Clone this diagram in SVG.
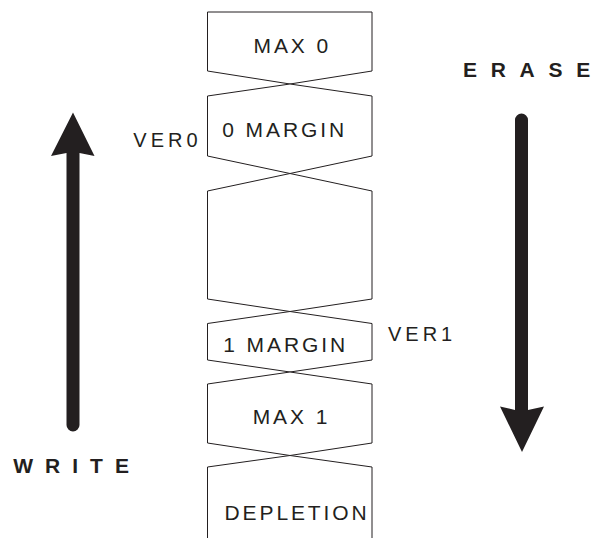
<svg xmlns="http://www.w3.org/2000/svg" width="592" height="538" viewBox="0 0 592 538">
<style>
.cell{fill:#fff;stroke:#231f20;stroke-width:1}
.t{font-family:"Liberation Sans",Arial,sans-serif;font-size:21px;fill:#231f20;letter-spacing:2.9px}
.side{font-family:"Liberation Sans",Arial,sans-serif;font-size:20px;fill:#231f20;letter-spacing:4px}
.dir{font-family:"Liberation Sans",Arial,sans-serif;font-size:21px;font-weight:bold;fill:#231f20}
.arrow{fill:#231f20}
</style>
<rect width="592" height="538" fill="#fff"/>
<g id="max0">
<polygon class="cell" points="207.5,12 372,12 372,71 290,84 207.5,71"/>
<text class="t" x="253.5" y="52.5">MAX 0</text>
</g>
<g id="margin0">
<polygon class="cell" points="207.5,96 290,84 372,96 372,156 290,173.5 207.5,156"/>
<text class="t" x="222.3" y="137">0 MARGIN</text>
</g>
<g id="middle">
<polygon class="cell" points="207.5,191 290,173.5 372,191 372,299 290,311.5 207.5,299"/>
</g>
<g id="margin1">
<polygon class="cell" points="207.5,323.5 290,311.5 372,323.5 372,360 290,372 207.5,360"/>
<text class="t" x="223.3" y="352">1 MARGIN</text>
</g>
<g id="max1">
<polygon class="cell" points="207.5,384 290,372 372,384 372,443 290,455.5 207.5,443"/>
<text class="t" x="252.7" y="423.5">MAX 1</text>
</g>
<g id="depletion">
<polygon points="207.5,540 207.5,467 290,455.5 372,467 372,540" fill="#fff" stroke="#231f20" stroke-width="1"/>
<text class="t" x="224.5" y="520">DEPLETION</text>
</g>
<g id="ver0">
<text class="side" x="133.3" y="147.3">VER0</text>
</g>
<g id="ver1">
<text class="side" x="388" y="341">VER1</text>
</g>
<g id="write">
<path class="arrow" d="M66.5,425 L66.5,153 L51,156 L73,112.5 L94.5,156 L79.5,153 L79.5,425 A6.5,6.5 0 0 1 66.5,425 Z"/>
<text class="dir" x="13.3 45.1 72.3 90.1 114.9" y="473">WRITE</text>
</g>
<g id="erase">
<path class="arrow" d="M515,120 A6.5,6.5 0 0 1 528,120 L528,410 L544,406.5 L522,452 L500,406.5 L515,410 Z"/>
<text class="dir" x="463 490.7 519.6 548.5 576.2" y="77">ERASE</text>
</g>
</svg>
